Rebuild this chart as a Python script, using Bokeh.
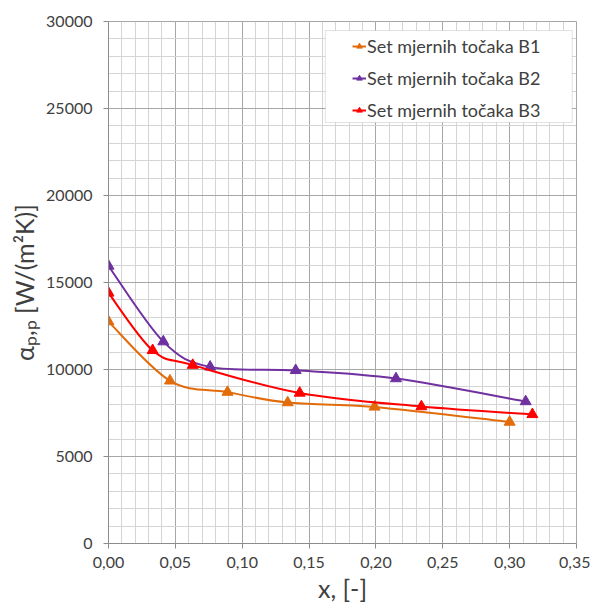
import numpy as np
from bokeh.plotting import figure
from bokeh.models import (Range1d, FixedTicker, CustomJSTickFormatter, Legend, LegendItem,
                          BoxAnnotation, ColumnDataSource)
from bokeh.embed import file_html
from bokeh.resources import INLINE

# ---- data ----
series_names = ["Set mjernih točaka B1", "Set mjernih točaka B2", "Set mjernih točaka B3"]
b1_x = [0.000, 0.046, 0.089, 0.134, 0.199, 0.300]
b1_y = [12750, 9350, 8700, 8100, 7850, 6980]
b2_x = [0.000, 0.041, 0.076, 0.140, 0.215, 0.312]
b2_y = [15950, 11600, 10150, 9950, 9480, 8160]
b3_x = [0.000, 0.033, 0.063, 0.143, 0.234, 0.317]
b3_y = [14400, 11100, 10250, 8650, 7870, 7420]
colors = ["#E36C0A", "#7030A0", "#FF0000"]

x_ticks = [0.0, 0.05, 0.10, 0.15, 0.20, 0.25, 0.30, 0.35]
x_minor = [round(i * 0.01, 2) for i in range(36)]
y_ticks = [0, 5000, 10000, 15000, 20000, 25000, 30000]
y_minor = list(range(0, 30001, 1000))
x_label = "x, [-]"
y_label = "αₚ,ₚ [W/(m²K)]"

FONT = "Lato"
TXT = "#404040"

p = figure(width=590, height=607, output_backend="svg", toolbar_location=None,
           x_range=Range1d(0, 0.35), y_range=Range1d(0, 30000),
           min_border_left=108, min_border_right=14, min_border_top=21, min_border_bottom=64)
p.background_fill_color = "white"
p.border_fill_color = "white"
p.outline_line_color = "#a6a6a6"

for ax in (p.xaxis[0], p.yaxis[0]):
    ax.axis_line_color = "#8c8c8c"
    ax.major_tick_line_color = "#8c8c8c"
    ax.major_tick_out = 5
    ax.major_tick_in = 0
    ax.minor_tick_line_color = None
    ax.major_label_text_font = FONT
    ax.major_label_text_font_size = "16px"
    ax.major_label_text_color = TXT
    ax.axis_label_text_font = FONT
    ax.axis_label_text_font_style = "normal"
    ax.axis_label_text_font_size = "25px"
    ax.axis_label_text_color = TXT

p.xaxis[0].ticker = FixedTicker(ticks=x_ticks, minor_ticks=x_minor)
p.yaxis[0].ticker = FixedTicker(ticks=y_ticks, minor_ticks=y_minor)
p.xaxis[0].formatter = CustomJSTickFormatter(code="return tick.toFixed(2).replace('.', ',');")
p.yaxis[0].formatter = CustomJSTickFormatter(code="return tick.toFixed(0);")
p.xaxis[0].major_label_standoff = 8
p.yaxis[0].major_label_standoff = 11
p.xaxis[0].axis_label = x_label
p.yaxis[0].axis_label = y_label
p.xaxis[0].axis_label_standoff = 2
p.yaxis[0].axis_label_standoff = 4

p.xgrid.grid_line_color = "#a6a6a6"
p.ygrid.grid_line_color = "#a6a6a6"
p.xgrid.minor_grid_line_color = "#d4d4d4"
p.ygrid.minor_grid_line_color = "#d4d4d4"

# legend box (drawn first, behind legend)
box = BoxAnnotation(left=(325 - 108) / 1338, right=(572 - 108) / 1338,
                    top=(543 - 30) * 57.47, bottom=(543 - 122) * 57.47,
                    fill_color="white", fill_alpha=1.0, line_color="#a0a0a0", line_width=1)
p.add_layout(box)


def smooth(xs, ys):
    P = np.column_stack([xs, ys]).astype(float)
    n = len(P)
    segs = {k: [] for k in ("x0", "y0", "x1", "y1", "cx0", "cy0", "cx1", "cy1")}
    for i in range(n - 1):
        p0 = P[i - 1] if i > 0 else P[i]
        p1 = P[i]
        p2 = P[i + 1]
        p3 = P[i + 2] if i + 2 < n else P[i + 1]
        c1 = p1 + (p2 - p0) / 6.0
        c2 = p2 - (p3 - p1) / 6.0
        segs["x0"].append(p1[0]); segs["y0"].append(p1[1])
        segs["x1"].append(p2[0]); segs["y1"].append(p2[1])
        segs["cx0"].append(c1[0]); segs["cy0"].append(c1[1])
        segs["cx1"].append(c2[0]); segs["cy1"].append(c2[1])
    return ColumnDataSource(segs)


items = []
for name, xs, ys, c in zip(series_names, [b1_x, b2_x, b3_x], [b1_y, b2_y, b3_y], colors):
    src = smooth(xs, ys)
    r_line = p.bezier(x0="x0", y0="y0", x1="x1", y1="y1", cx0="cx0", cy0="cy0",
                      cx1="cx1", cy1="cy1", source=src, line_color=c, line_width=2)
    r_pts = p.scatter(xs, ys, marker="triangle", size=11, fill_color=c, line_color=c)
    items.append(LegendItem(label=name, renderers=[r_line, r_pts]))

legend = Legend(items=items, location=(238, 416), padding=6, spacing=10,
                glyph_width=14, glyph_height=20, label_height=20, label_standoff=1,
                label_text_font=FONT, label_text_font_size="18px", label_text_color=TXT,
                background_fill_alpha=0.0, border_line_alpha=0.0)
p.add_layout(legend, "center")

open("out.html", "w").write(file_html(p, INLINE))
